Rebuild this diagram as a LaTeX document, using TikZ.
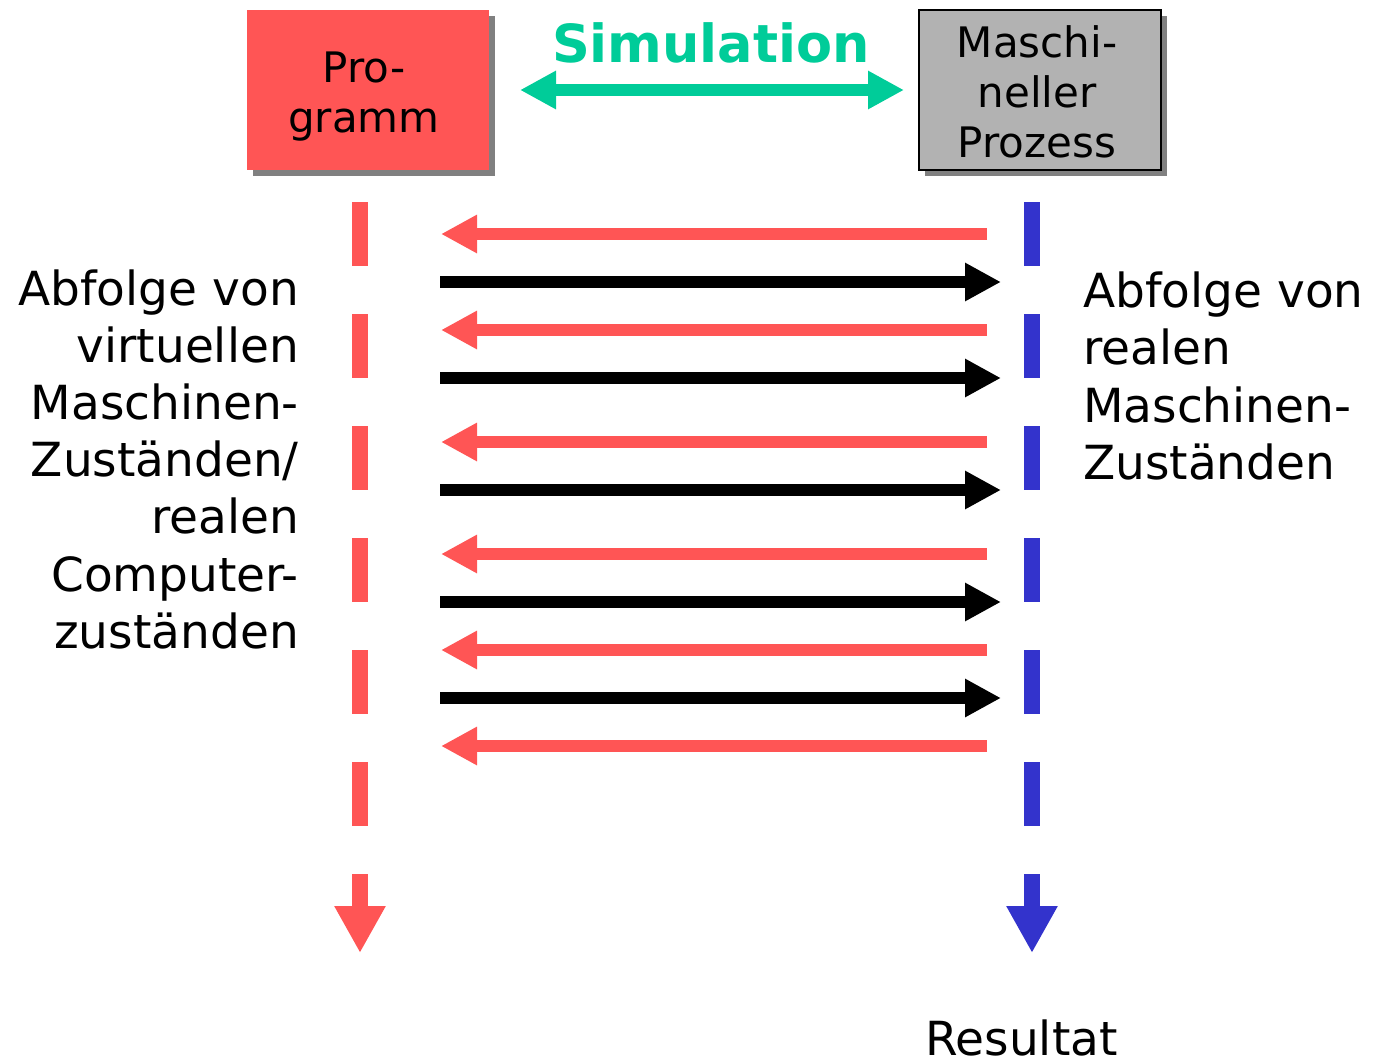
\documentclass[tikz,border=0pt]{standalone}
\usepackage{fontspec}
\setmainfont{DejaVu Sans}
\usetikzlibrary{arrows.meta,shadows}
\definecolor{myred}{HTML}{FF5555}
\definecolor{myblue}{HTML}{3333CC}
\definecolor{mygreen}{HTML}{00CC99}
\definecolor{mygray}{HTML}{B2B2B2}
\definecolor{shadowgray}{HTML}{808080}
\begin{document}
\begin{tikzpicture}[x=1pt,y=-1pt,
  box/.style={minimum width=242pt, minimum height=160pt, inner sep=0pt, outer sep=0pt,
    drop shadow={shadow xshift=6pt, shadow yshift=-6pt, fill=shadowgray, opacity=1}},
  boxtext/.style={font=\fontsize{42}{50}\selectfont, align=center, inner sep=0pt},
  sidetext/.style={font=\fontsize{47}{57}\selectfont, inner sep=0pt},
  leftarr/.style={draw=myred, line width=12pt, -{Triangle[length=36pt,width=36pt]}},
  rightarr/.style={draw=black, line width=12pt, -{Triangle[length=36pt,width=36pt]}},
  lifeline/.style={line width=16pt, dash pattern=on 64pt off 48pt},
  lifeend/.style={line width=16pt, -{Triangle[length=47pt,width=48pt]}}
]
\useasboundingbox (0,0) rectangle (1382,1061);

% boxes
\node[box, fill=myred] (prog) at (368,90) {};
\node[box, fill=mygray, draw=black, line width=2pt] (proc) at (1040,90) {};
\node[boxtext] (progtxt) at (364,97) {Pro-\\gramm};
\node[boxtext] (proctxt) at (1037,91.5) {Maschi-\\neller\\Prozess};

% simulation
\node[font=\bfseries\fontsize{52.5}{60}\selectfont, text=mygreen, anchor=base, inner sep=0pt] (sim) at (711,62) {Simulation};
\coordinate (simL) at (520,90);
\coordinate (simR) at (904,90);
\draw[mygreen, line width=12pt, {Triangle[length=36pt,width=36pt]}-{Triangle[length=36pt,width=36pt]}] (simL) -- (simR);

% lifelines
\coordinate (rtop) at (360,202);
\coordinate (rdash) at (360,826);
\coordinate (rarr) at (360,874);
\coordinate (rend) at (360,953);
\coordinate (btop) at (1032,202);
\coordinate (bdash) at (1032,826);
\coordinate (barr) at (1032,874);
\coordinate (bend) at (1032,953);
\draw[myred, lifeline] (rtop) -- (rdash);
\draw[myred, lifeend] (rarr) -- (rend);
\draw[myblue, lifeline] (btop) -- (bdash);
\draw[myblue, lifeend] (barr) -- (bend);

% messages
\foreach \y [count=\i] in {234,330,442,554,650,746} {
  \coordinate (ra\i) at (987,\y);
  \coordinate (rb\i) at (441,\y);
  \draw[leftarr] (ra\i) -- (rb\i);
}
\foreach \y [count=\i] in {282,378,490,602,698} {
  \coordinate (ka\i) at (440,\y);
  \coordinate (kb\i) at (1001,\y);
  \draw[rightarr] (ka\i) -- (kb\i);
}

% side texts
\foreach \t [count=\i] in {Abfolge von,virtuellen,Maschinen-,Zuständen/,realen,Computer-,zuständen} {
  \node[sidetext, anchor=base east] (L\i) at (299,{305+57.2*(\i-1)}) {\t};
}
\foreach \t [count=\i] in {Abfolge von,realen,Maschinen-,Zuständen} {
  \node[sidetext, anchor=base west] (R\i) at (1083,{307+57.6*(\i-1)}) {\t};
}
\node[sidetext, anchor=base west] (res) at (925,1055) {Resultat};
\end{tikzpicture}
\end{document}
